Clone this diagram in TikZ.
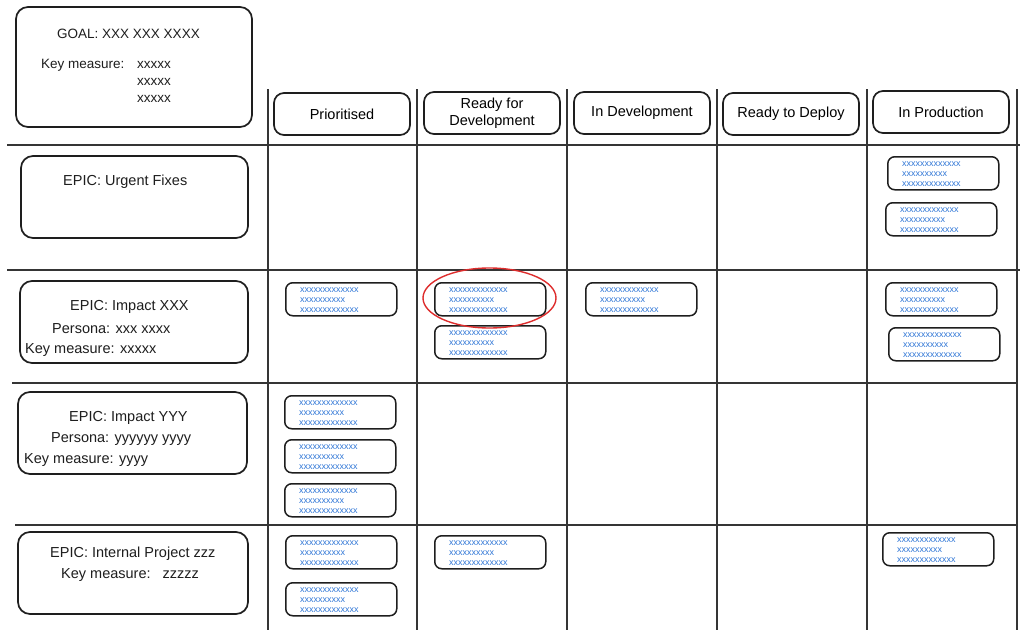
\documentclass[tikz,border=0pt]{standalone}
\usepackage{fontspec}
\setmainfont{Liberation Sans}
\usetikzlibrary{shapes.geometric,calc}
\definecolor{cardblue}{RGB}{50,120,215}
\definecolor{ringred}{RGB}{222,45,45}
\definecolor{ink}{RGB}{30,30,30}
\tikzset{
  box/.style={draw=ink, line width=1.7pt, rounded corners=10pt, inner sep=0pt},
  gridline/.style={draw=ink!90, line width=1.7pt},
  hdr/.style={box, minimum width=136pt, minimum height=42pt, font=\fontsize{14.5}{17}\selectfont, align=center},
  epic/.style={box, rounded corners=12pt},
  card/.style={box, line width=1.5pt, minimum width=111pt, minimum height=33pt, rounded corners=7pt},
  cardtxt/.style={font=\fontsize{9}{9.7}\selectfont, text=cardblue, align=left, anchor=north west, inner sep=0pt},
  lbl/.style={font=\fontsize{14.5}{16}\selectfont, inner sep=0pt, anchor=west, text=ink, yshift=-1.5pt},
  glbl/.style={font=\fontsize{13.5}{16}\selectfont, inner sep=0pt, anchor=west, text=ink, yshift=-1pt},
}
\newcommand\kcard[3]{%
  \node[card, anchor=north west] (#1) at (#2,#3) {};
  \node[cardtxt] (#1t) at ([xshift=15pt,yshift=-6pt]#1.north west) {xxxxxxxxxxxxx\\xxxxxxxxxx\\xxxxxxxxxxxxx};
}
\begin{document}
\begin{tikzpicture}[x=1pt,y=-1pt]
\useasboundingbox (0,0) rectangle (1024,637);
\fill[white] (0,0) rectangle (1024,637);

% grid coordinates
\foreach \n/\x in {a/268,b/417,c/567,d/717,e/867,f/1017}{
  \coordinate (v\n top) at (\x,89);
  \coordinate (v\n bot) at (\x,630);
}
\coordinate (h1l) at (7,145);  \coordinate (h1r) at (1020,145);
\coordinate (h2l) at (7,270);  \coordinate (h2r) at (1020,270);
\coordinate (h3l) at (12,383); \coordinate (h3r) at (1017,383);
\coordinate (h4l) at (15,525); \coordinate (h4r) at (1017,525);
\foreach \n in {a,b,c,d,e,f}{\draw[gridline] (v\n top) -- (v\n bot);}
\foreach \n in {1,2,3,4}{\draw[gridline] (h\n l) -- (h\n r);}

% goal box
\node[epic, minimum width=236pt, minimum height=120pt] (goal) at (134,67) {};
\node[glbl] (goalt) at (57,33) {GOAL: XXX XXX XXXX};
\node[glbl] (goalk) at (41,64) {Key measure:};
\node[glbl] (goalx1) at (137,64) {xxxxx};
\node[glbl] (goalx2) at (137,81) {xxxxx};
\node[glbl] (goalx3) at (137,98) {xxxxx};

% headers
\node[hdr] (h1) at (342,114) {Prioritised};
\node[hdr] (h2) at (492,113) {Ready for\\Development};
\node[hdr] (h3) at (642,113) {In Development};
\node[hdr] (h4) at (791,114) {Ready to Deploy};
\node[hdr] (h5) at (941,112) {In Production};

% epics
\node[epic, minimum width=227pt, minimum height=82pt] (e1) at (134.5,197) {};
\node[lbl] (e1a) at (63,180) {EPIC: Urgent Fixes};

\node[epic, minimum width=228pt, minimum height=82pt] (e2) at (134,322) {};
\node[lbl] (e2a) at (70,305) {EPIC: Impact XXX};
\node[lbl] (e2b) at (52,327) {Persona: xxx xxxx};
\node[lbl] (e2c) at (25,349) {Key measure: xxxxx};

\node[epic, minimum width=229pt, minimum height=82pt] (e3) at (132.5,433) {};
\node[lbl] (e3a) at (69,416) {EPIC: Impact YYY};
\node[lbl] (e3b) at (51,438) {Persona: yyyyyy yyyy};
\node[lbl] (e3c) at (24,459) {Key measure: yyyy};

\node[epic, minimum width=230pt, minimum height=82pt] (e4) at (133,573) {};
\node[lbl] (e4a) at (50,552) {EPIC: Internal Project zzz};
\node[lbl] (e4b) at (61,574) {Key measure:\ \ \ zzzzz};

% cards
\kcard{p1}{887}{156}
\kcard{p2}{885}{202}

\kcard{r2a}{285}{282}
\kcard{r2b}{434}{282}
\kcard{r2c}{434}{325}
\kcard{r2d}{585}{282}
\kcard{r2e}{885}{282}
\kcard{r2f}{888}{327}

\kcard{r3a}{284}{395}
\kcard{r3b}{284}{439}
\kcard{r3c}{284}{483}

\kcard{r4a}{285}{535}
\kcard{r4b}{285}{582}
\kcard{r4c}{434}{535}
\kcard{r4d}{882}{532}

% red highlight
\node[draw=ringred, ellipse, line width=1.4pt, minimum width=133pt, minimum height=60pt] (ring) at (489.5,298) {};
\end{tikzpicture}
\end{document}
